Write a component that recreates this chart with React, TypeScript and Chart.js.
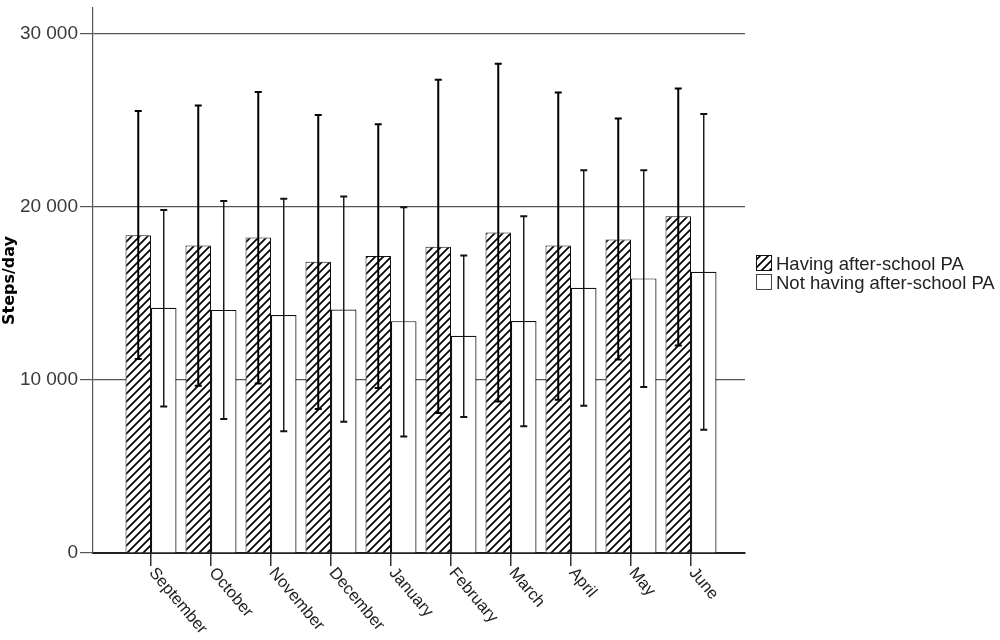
import React, { useEffect, useRef } from 'react';
import { Chart, registerables } from 'chart.js';

Chart.register(...registerables);

const months = ['September', 'October', 'November', 'December', 'January', 'February', 'March', 'April', 'May', 'June'];
const seriesLabels = ['Having after-school PA', 'Not having after-school PA'];

const withPA = [18370, 17780, 18240, 16830, 17160, 17700, 18530, 17780, 18120, 19460];
const withPAHigh = [25550, 25870, 26640, 25320, 24780, 27350, 28280, 26620, 25110, 26850];
const withPALow = [11220, 9670, 9790, 8320, 9540, 8090, 8760, 8860, 11180, 12000];

const withoutPA = [14170, 14050, 13760, 14070, 13400, 12550, 13410, 15330, 15870, 16250];
const withoutPAHigh = [19820, 20340, 20480, 20600, 19980, 17200, 19470, 22120, 22120, 25380];
const withoutPALow = [8470, 7740, 7030, 7590, 6740, 7860, 7320, 8510, 9590, 7120];

const yTicks = [0, 10000, 20000, 30000];
const yMax = 31500;

function makeHatch(): CanvasPattern | string {
  const s = 8;
  const c = document.createElement('canvas');
  c.width = s;
  c.height = s;
  const g = c.getContext('2d');
  if (!g) return '#fff';
  g.fillStyle = '#fff';
  g.fillRect(0, 0, s, s);
  g.strokeStyle = '#000';
  g.lineWidth = 1.7;
  g.beginPath();
  g.moveTo(-1, s + 1);
  g.lineTo(s + 1, -1);
  g.moveTo(-2, 2);
  g.lineTo(2, -2);
  g.moveTo(s - 2, s + 2);
  g.lineTo(s + 2, s - 2);
  g.stroke();
  const p = g.createPattern(c, 'repeat');
  return p || '#fff';
}

function fmt(v: number): string {
  return String(v).replace(/\B(?=(\d{3})+(?!\d))/g, ' ');
}

export default function App() {
  const ref = useRef<HTMLCanvasElement | null>(null);

  useEffect(() => {
    document.body.style.margin = '0';
    const canvas = ref.current;
    if (!canvas) return;
    const hatch = makeHatch();

    const errorBars = {
      id: 'errorBars',
      afterDatasetsDraw(chart: any) {
        const ctx = chart.ctx;
        const ys = chart.scales.y;
        const sets: [number[], number[], number, string][] = [
          [withPALow, withPAHigh, 2, '#000'],
          [withoutPALow, withoutPAHigh, 1.4, '#111'],
        ];
        ctx.save();
        sets.forEach(([lows, highs, lw, col], di) => {
          const meta = chart.getDatasetMeta(di);
          meta.data.forEach((bar: any, i: number) => {
            const x = bar.x;
            const yh = ys.getPixelForValue(highs[i]);
            const yl = ys.getPixelForValue(lows[i]);
            ctx.strokeStyle = col;
            ctx.lineWidth = lw;
            ctx.beginPath();
            ctx.moveTo(x, yh);
            ctx.lineTo(x, yl);
            ctx.stroke();
            ctx.lineWidth = 2;
            ctx.beginPath();
            ctx.moveTo(x - 3.5, yh);
            ctx.lineTo(x + 3.5, yh);
            ctx.moveTo(x - 3.5, yl);
            ctx.lineTo(x + 3.5, yl);
            ctx.stroke();
          });
        });
        ctx.restore();
      },
    };

    const labelsAndLegend = {
      id: 'labelsAndLegend',
      afterDraw(chart: any) {
        const ctx = chart.ctx;
        const xs = chart.scales.x;
        const base = chart.chartArea.bottom;
        ctx.save();
        ctx.font = '16.5px "Liberation Sans", Arial, sans-serif';
        ctx.fillStyle = '#222';
        ctx.textAlign = 'left';
        ctx.textBaseline = 'middle';
        months.forEach((m, i) => {
          const x = xs.getPixelForValue(i);
          ctx.save();
          ctx.translate(x + 1, base + 17);
          ctx.rotate((50 * Math.PI) / 180);
          ctx.fillText(m, 0, 0);
          ctx.restore();
        });

        // legend
        const lx = 756;
        const rows = [255, 274];
        ctx.font = '18.5px "Liberation Sans", Arial, sans-serif';
        ctx.textBaseline = 'alphabetic';
        rows.forEach((ry, k) => {
          ctx.fillStyle = k === 0 ? (hatch as any) : '#fff';
          ctx.fillRect(lx, ry, 16, 16);
          ctx.strokeStyle = k === 0 ? '#111' : '#444';
          ctx.lineWidth = 1;
          ctx.strokeRect(lx + 0.5, ry + 0.5, 15, 15);
          ctx.fillStyle = '#222';
          ctx.fillText(seriesLabels[k], lx + 20, ry + 15);
        });
        ctx.restore();
      },
    };

    const chart = new Chart(canvas, {
      type: 'bar',
      data: {
        datasets: [
          {
            label: seriesLabels[0],
            data: withPA.map((v, i) => ({ x: i, y: v })),
            backgroundColor: hatch as any,
            borderColor: '#111',
            borderWidth: 1,
            categoryPercentage: 0.85,
            barPercentage: 1,
          },
          {
            label: seriesLabels[1],
            data: withoutPA.map((v, i) => ({ x: i, y: v })),
            backgroundColor: '#fff',
            borderColor: '#111',
            borderWidth: 1.2,
            categoryPercentage: 0.85,
            barPercentage: 1,
          },
        ],
      },
      options: {
        responsive: false,
        animation: false,
        events: [],
        layout: { padding: { top: 8, right: 255, left: 0, bottom: 0 } },
        plugins: {
          legend: { display: false },
          tooltip: { enabled: false },
        },
        scales: {
          x: {
            type: 'linear',
            offset: false,
            min: -0.9667,
            max: 9.9,
            z: 1,
            afterBuildTicks: (s: any) => {
              s.ticks = months.map((_, i) => ({ value: i }));
            },
            afterFit: (s: any) => {
              s.height = 87;
              s.paddingLeft = 0;
              s.paddingRight = 0;
            },
            ticks: { display: false },
            grid: { offset: false, drawOnChartArea: false, drawTicks: true, tickLength: 13, color: '#333', lineWidth: 1.5 },
            border: { display: true, color: '#222', width: 2 },
          },
          y: {
            type: 'linear',
            min: 0,
            max: yMax,
            afterBuildTicks: (s: any) => {
              s.ticks = yTicks.map((v) => ({ value: v }));
            },
            afterFit: (s: any) => {
              s.width = 93;
              s.paddingTop = 0;
              s.paddingBottom = 0;
            },
            ticks: {
              callback: (v: any) => fmt(Number(v)),
              font: { family: '"Liberation Sans", Arial, sans-serif', size: 19 },
              color: '#3a3a3a',
              padding: 2,
            },
            grid: { color: '#555', lineWidth: 1.2, tickLength: 13 },
            border: { display: true, color: '#555', width: 1.2 },
            title: {
              display: true,
              text: 'Steps/day',
              font: { family: '"DejaVu Sans", sans-serif', weight: 'bold', size: 16 },
              color: '#000',
              padding: 0,
            },
          },
        },
      },
      plugins: [errorBars, labelsAndLegend],
    } as any);

    return () => chart.destroy();
  }, []);

  return (
    <div style={{ position: 'absolute', left: 0, top: 0, width: 1000, height: 640, background: '#fff' }}>
      <canvas ref={ref} width={1000} height={640} style={{ display: 'block' }} />
    </div>
  );
}
